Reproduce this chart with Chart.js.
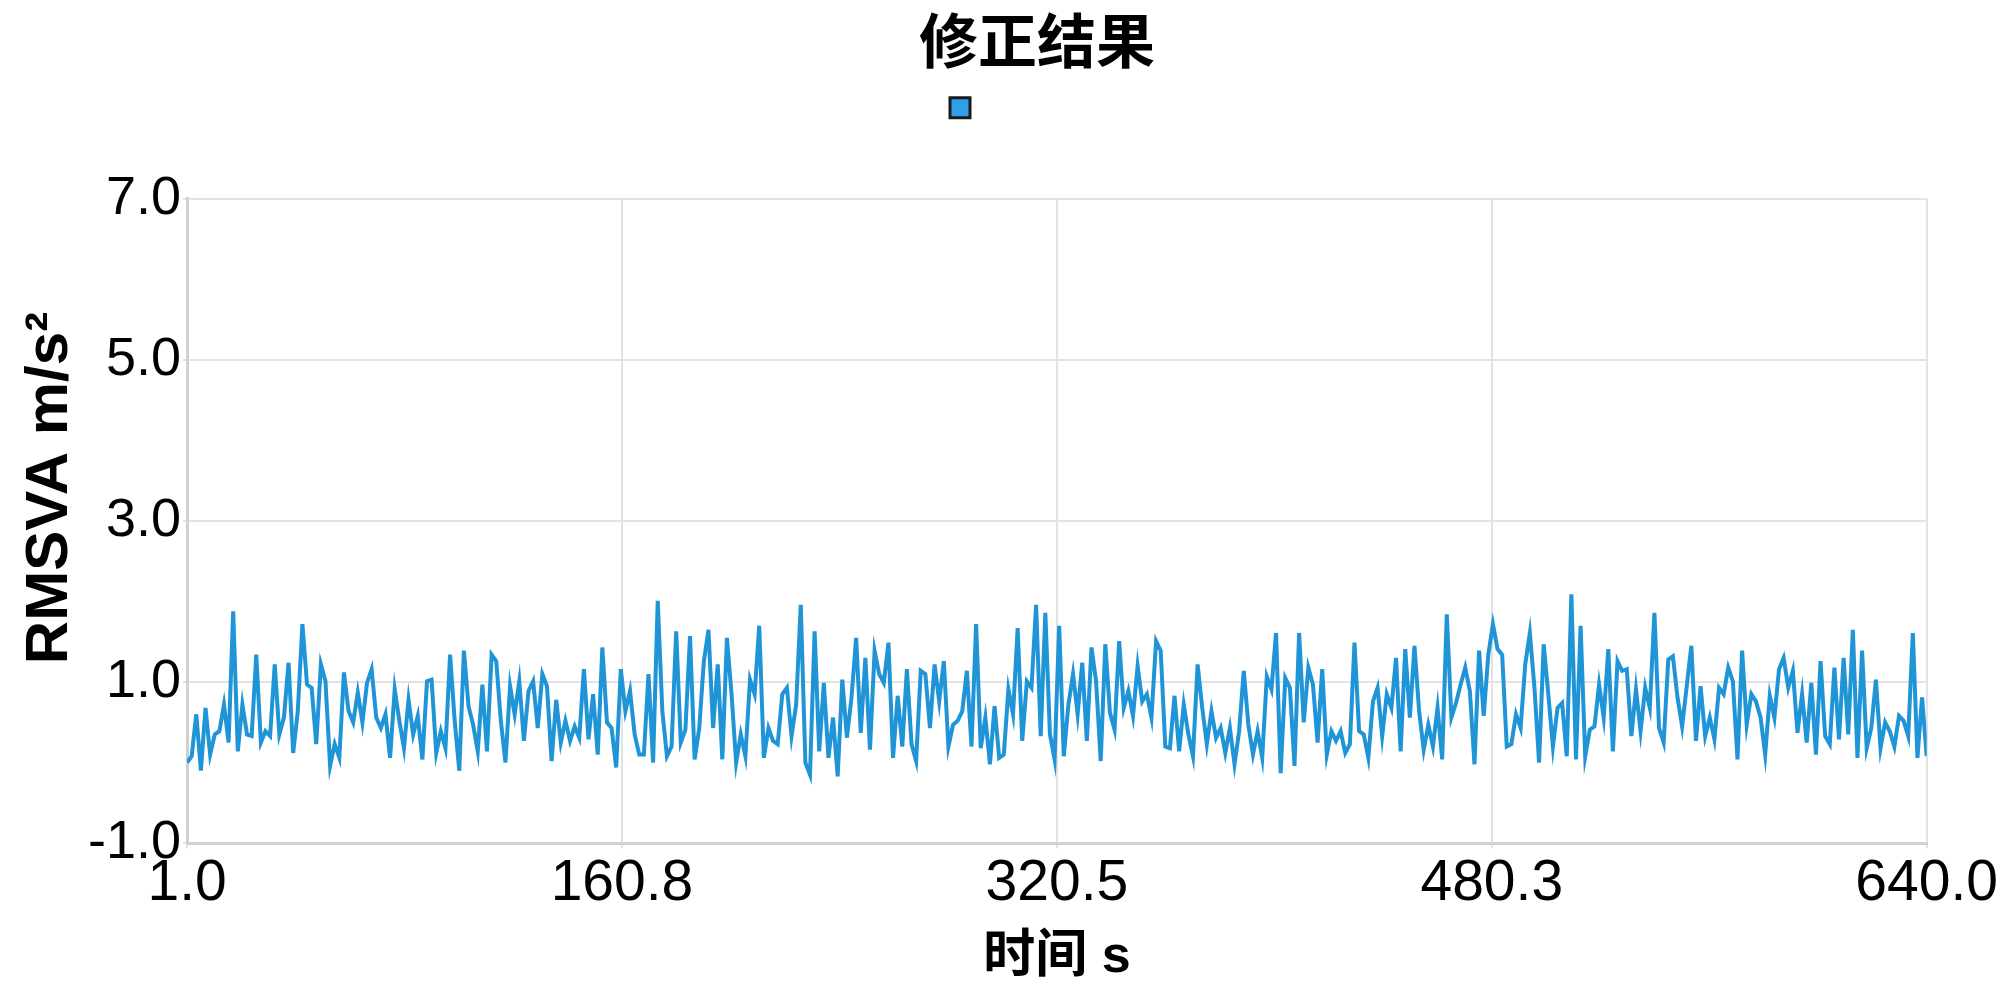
<!DOCTYPE html>
<html lang="zh-CN">
<head>
<meta charset="UTF-8">
<title>修正结果</title>
<script src="https://cdn.jsdelivr.net/npm/chart.js"></script>
<style>
  html, body { margin: 0; padding: 0; background: #fff; }
  #wrap { width: 2000px; height: 997px; }
</style>
</head>
<body>
<div id="wrap"><canvas id="chart"></canvas></div>
<script>
// RMSVA values, left to right
const rmsva = [
  0.00, 0.08, 0.60, -0.10, 0.68, 0.10, 0.35, 0.39, 0.72, 0.25, 1.88, 0.14, 0.72, 0.35, 0.33, 1.34, 0.25, 0.39, 0.33, 1.22,
  0.35, 0.56, 1.24, 0.12, 0.64, 1.72, 0.97, 0.93, 0.23, 1.22, 1.01, -0.04, 0.23, 0.06, 1.12, 0.64, 0.50, 0.87, 0.50,
  0.99, 1.16, 0.56, 0.43, 0.60, 0.06, 0.91, 0.52, 0.18, 0.78, 0.35, 0.58, 0.04, 1.01, 1.03, 0.12, 0.39, 0.18, 1.34,
  0.52, -0.10, 1.39, 0.70, 0.47, 0.14, 0.97, 0.14, 1.34, 1.26, 0.52, 0.00, 0.95, 0.60, 1.01, 0.27, 0.89, 1.01, 0.43,
  1.10, 0.95, 0.02, 0.78, 0.25, 0.52, 0.27, 0.45, 0.31, 1.16, 0.29, 0.85, 0.10, 1.43, 0.50, 0.43, -0.06, 1.16, 0.64, 0.89,
  0.35, 0.10, 0.10, 1.10, 0.00, 2.01, 0.64, 0.08, 0.20, 1.63, 0.25, 0.41, 1.57, 0.04, 0.43, 1.26, 1.65, 0.43, 1.22,
  0.04, 1.55, 0.85, 0.00, 0.35, 0.08, 1.03, 0.85, 1.70, 0.06, 0.43, 0.27, 0.23, 0.85, 0.93, 0.33, 0.72, 1.96, 0.00, -0.15,
  1.63, 0.14, 0.99, 0.06, 0.56, -0.17, 1.03, 0.31, 0.81, 1.55, 0.37, 1.30, 0.16, 1.39, 1.10, 0.99, 1.49, 0.06, 0.83, 0.20,
  1.16, 0.23, 0.02,
  1.14, 1.10, 0.43, 1.22, 0.76, 1.26, 0.20, 0.47, 0.52, 0.64, 1.14, 0.20, 1.72, 0.18, 0.56, -0.02, 0.70, 0.06, 0.10, 0.91,
  0.60, 1.67, 0.27, 1.01, 0.93, 1.96, 0.33, 1.86, 0.35, 0.04, 1.70, 0.08, 0.72, 1.10, 0.60, 1.24, 0.27, 1.43, 1.01, 0.02,
  1.47, 0.62, 0.41, 1.51,
  0.68, 0.89, 0.58, 1.20, 0.76, 0.85, 0.56, 1.51, 1.39, 0.20, 0.18, 0.83, 0.14, 0.72, 0.35, 0.08, 1.22, 0.68, 0.23, 0.64,
  0.31, 0.43, 0.12, 0.43, -0.02, 0.39, 1.14, 0.47, 0.10, 0.39, 0.06, 1.07, 0.91, 1.61, -0.13, 1.05, 0.93, -0.04, 1.61, 0.50,
  1.18, 0.97, 0.25, 1.16, 0.10, 0.39,
  0.27, 0.39, 0.12, 0.23, 1.49, 0.39, 0.35, 0.06, 0.76, 0.93, 0.33, 0.85, 0.68, 1.30, 0.14, 1.41, 0.56, 1.45, 0.64, 0.16,
  0.47, 0.20, 0.68, 0.04, 1.84, 0.56, 0.74, 0.97, 1.18, 0.89, -0.02, 1.39, 0.58, 1.34, 1.72, 1.41, 1.34, 0.20, 0.23, 0.60,
  0.43, 1.22, 1.61, 0.93, 0.00,
  1.47, 0.85, 0.20, 0.68, 0.74, 0.08, 2.09, 0.04, 1.70, 0.08, 0.41, 0.45, 0.97, 0.56, 1.41, 0.14, 1.26, 1.14, 1.16, 0.33,
  0.91, 0.39, 0.93, 0.68, 1.86, 0.43, 0.25, 1.28, 1.32, 0.81, 0.45, 0.95, 1.45, 0.27, 0.95, 0.33, 0.56, 0.29, 0.93, 0.85,
  1.18, 1.01,
  0.04, 1.39, 0.47, 0.85, 0.76, 0.56, 0.10, 0.83, 0.56, 1.16, 1.30, 0.93, 1.14, 0.37, 0.85, 0.25, 0.99, 0.10, 1.26, 0.33,
  0.23, 1.18, 0.29, 1.30, 0.35, 1.65, 0.06, 1.39, 0.18, 0.43, 1.03, 0.18, 0.50, 0.39, 0.20, 0.58, 0.52, 0.33, 1.61, 0.06,
  0.81, 0.08
];

// time axis (s), samples evenly spaced over the record
const timeStart = 1.0;
const timeEnd = 640.0;
const time = rmsva.map((_, i) => timeStart + i * (timeEnd - timeStart) / (rmsva.length - 1));

const xTicks = [1.0, 160.75, 320.5, 480.25, 640.0];
const yTicks = [-1, 1, 3, 5, 7];

const fontFamily = "'Liberation Sans', Arial, 'Noto Sans CJK SC', sans-serif";
const lineColor = '#1f94d6';

// nudges to match the original: room under the legend, legend box left of centre,
// title a bit right of centre, y title a bit above the middle of the axis
const layoutTweaks = {
  id: 'layoutTweaks',
  beforeInit(chart) {
    const fit = chart.legend.fit;
    chart.legend.fit = function () {
      fit.call(this);
      this.height += 71;
    };
  },
  afterLayout(chart) {
    chart.legend.left -= 44;
    chart.legend.right -= 44;
    chart.titleBlock.left += 30;
    chart.titleBlock.right += 30;
    const y = chart.scales.y;
    if (y && !y._titleShifted) {
      const drawTitle = y.drawTitle;
      y.drawTitle = function () {
        this.ctx.save();
        this.ctx.translate(0, -33);
        drawTitle.call(this);
        this.ctx.restore();
      };
      y._titleShifted = true;
    }
  }
};

const ctx = document.getElementById('chart').getContext('2d');
new Chart(ctx, {
  type: 'line',
  data: {
    datasets: [{
      label: '',
      data: time.map((t, i) => ({ x: t, y: rmsva[i] })),
      borderColor: lineColor,
      backgroundColor: '#2fa0e8',
      borderWidth: 4,
      pointRadius: 0,
      tension: 0,
      fill: false
    }]
  },
  options: {
    responsive: true,
    maintainAspectRatio: false,
    animation: false,
    layout: { padding: { left: 14, right: 0, top: 0, bottom: 8 } },
    plugins: {
      title: {
        display: true,
        text: '修正结果',
        color: '#000',
        font: { family: fontFamily, size: 59, weight: 'bold' },
        padding: { top: 11, bottom: 4 }
      },
      legend: {
        display: true,
        labels: {
          boxWidth: 20,
          boxHeight: 20,
          padding: 12,
          font: { size: 12 },
          generateLabels: (chart) => {
            const items = Chart.defaults.plugins.legend.labels.generateLabels(chart);
            items.forEach(it => { it.strokeStyle = '#1b1b1b'; it.fillStyle = '#2fa0e8'; it.lineWidth = 3; });
            return items;
          }
        }
      },
      tooltip: { enabled: false }
    },
    scales: {
      x: {
        type: 'linear',
        min: timeStart,
        max: timeEnd,
        afterBuildTicks: (axis) => { axis.ticks = xTicks.map(v => ({ value: v })); },
        ticks: {
          callback: (v) => Number(v).toFixed(1),
          color: '#000',
          font: { family: fontFamily, size: 57 },
          maxRotation: 0,
          autoSkip: false,
          padding: 2
        },
        grid: { color: '#e3e3e3', lineWidth: 2, tickLength: 5 },
        border: { color: '#d0d0d0', width: 3 },
        title: {
          display: true,
          text: '时间 s',
          color: '#000',
          font: { family: fontFamily, size: 52, weight: 'bold' },
          padding: { top: 6, bottom: 0 }
        }
      },
      y: {
        min: -1,
        max: 7,
        afterBuildTicks: (axis) => { axis.ticks = yTicks.map(v => ({ value: v })); },
        ticks: {
          callback: (v) => Number(v).toFixed(1),
          color: '#000',
          font: { family: fontFamily, size: 54 },
          padding: 2
        },
        grid: { color: '#e3e3e3', lineWidth: 2, tickLength: 4 },
        border: { color: '#d0d0d0', width: 3 },
        title: {
          display: true,
          text: 'RMSVA m/s²',
          color: '#000',
          font: { family: fontFamily, size: 60, weight: 'bold' },
          padding: { top: 0, bottom: 0 }
        }
      }
    }
  },
  plugins: [layoutTweaks]
});
</script>
</body>
</html>
